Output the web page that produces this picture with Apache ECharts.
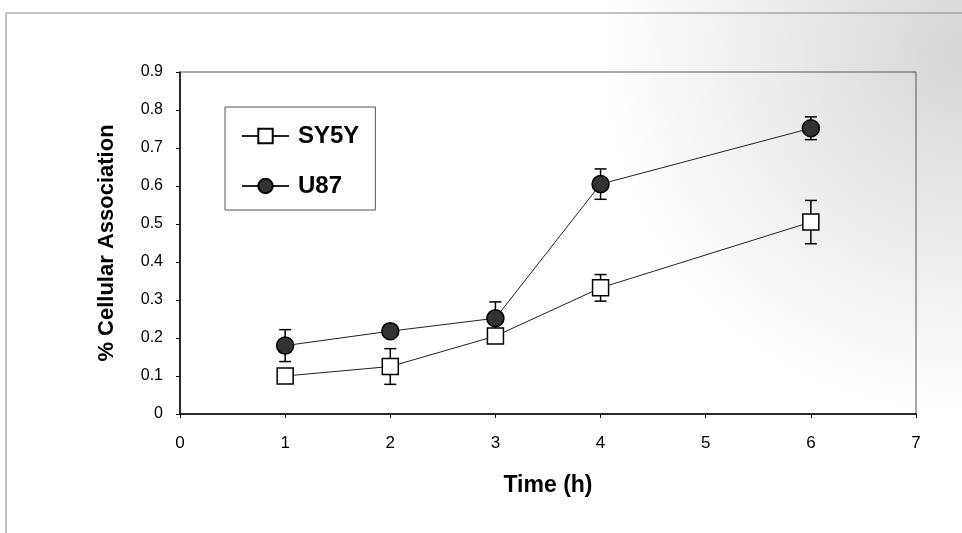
<!DOCTYPE html>
<html><head><meta charset="utf-8">
<script src="https://cdn.jsdelivr.net/npm/echarts@6/dist/echarts.min.js"></script>
<style>html,body{margin:0;padding:0;background:#fff}#c{width:962px;height:533px}</style>
</head><body><div id="c"></div>
<script>
var timeH = [1, 2, 3, 4, 6];
var sy5yMean = [0.10, 0.125, 0.205, 0.332, 0.505];
var sy5yErr  = [0.01, 0.047, 0.012, 0.035, 0.057];
var u87Mean  = [0.18, 0.218, 0.252, 0.605, 0.752];
var u87Err   = [0.042, 0.008, 0.043, 0.04, 0.03];
var xTicks = [0,1,2,3,4,5,6,7];
var yTicks = [0,0.1,0.2,0.3,0.4,0.5,0.6,0.7,0.8,0.9];

function pts(m){ return timeH.map(function(t,i){ return [t, m[i]]; }); }
function errs(m,e){ return timeH.map(function(t,i){ return [t, m[i]-e[i], m[i]+e[i]]; }); }

function errRender(params, api){
  var x = api.value(0), lo = api.value(1), hi = api.value(2);
  var pLo = api.coord([x, lo]), pHi = api.coord([x, hi]);
  var w = 6;
  var st = {stroke:'#000', lineWidth:1.5};
  return {type:'group', children:[
    {type:'line', shape:{x1:pLo[0], y1:pLo[1], x2:pHi[0], y2:pHi[1]}, style:st},
    {type:'line', shape:{x1:pLo[0]-w, y1:pLo[1], x2:pLo[0]+w, y2:pLo[1]}, style:st},
    {type:'line', shape:{x1:pHi[0]-w, y1:pHi[1], x2:pHi[0]+w, y2:pHi[1]}, style:st}
  ]};
}

var FONT = 'Liberation Sans, Arial, sans-serif';
var chart = echarts.init(document.getElementById('c'));
chart.setOption({
  backgroundColor:'#fff',
  animation:false,
  textStyle:{fontFamily:FONT, color:'#000'},
  graphic:[
    {type:'rect', z:-10, silent:true, shape:{x:560, y:0, width:402, height:533},
      style:{fill:{type:'radial', x:1, y:0.1, r:0.9, colorStops:[
        {offset:0, color:'rgba(0,0,0,0.16)'},
        {offset:0.5, color:'rgba(0,0,0,0.08)'},
        {offset:1, color:'rgba(0,0,0,0)'}]}}},
    {type:'polyline', shape:{points:[[6,533],[6,13],[962,13]]}, style:{stroke:'#888', lineWidth:1, fill:null}}
  ],
  grid:{left:180, top:72, right:46, bottom:119, show:true, borderColor:'#555', borderWidth:1, backgroundColor:'transparent'},
  legend:{
    orient:'vertical', left:225, top:107,
    borderColor:'#555', borderWidth:1, padding:[17,16,12,16], itemGap:26,
    itemWidth:47, itemHeight:18,
    textStyle:{fontSize:24, fontWeight:'bold', color:'#000', fontFamily:FONT, padding:[0,0,0,4]},
    data:['SY5Y','U87']
  },
  xAxis:{
    type:'value', min:0, max:7, interval:1,
    name:'Time (h)', nameLocation:'middle', nameGap:60,
    nameTextStyle:{fontSize:23, fontWeight:'bold', color:'#000', fontFamily:FONT},
    axisLine:{show:true, onZero:false, lineStyle:{color:'#000', width:1.5}},
    axisTick:{show:true, inside:false, length:4, lineStyle:{color:'#000'}},
    axisLabel:{fontSize:17, color:'#000', margin:21, formatter:function(v){return xTicks.indexOf(v)>=0?String(v):'';}},
    splitLine:{show:false}
  },
  yAxis:{
    type:'value', min:0, max:0.9, interval:0.1,
    name:'% Cellular Association', nameLocation:'middle', nameGap:62, nameRotate:90,
    nameTextStyle:{fontSize:22, fontWeight:'bold', color:'#000', fontFamily:FONT},
    axisLine:{show:true, lineStyle:{color:'#000', width:1.5}},
    axisTick:{show:true, inside:false, length:4, lineStyle:{color:'#000'}},
    axisLabel:{fontSize:16, color:'#000', margin:17, formatter:function(v){var r=Math.round(v*10)/10; return yTicks.indexOf(r)>=0?String(r):'';}},
    splitLine:{show:false}
  },
  series:[
    {name:'SY5Y err', type:'custom', renderItem:errRender, data:errs(sy5yMean,sy5yErr), z:1, silent:true, encode:{x:0,y:[1,2]}},
    {name:'U87 err', type:'custom', renderItem:errRender, data:errs(u87Mean,u87Err), z:1, silent:true, encode:{x:0,y:[1,2]}},
    {name:'SY5Y', type:'line', data:pts(sy5yMean), symbol:'rect', symbolSize:16,
      itemStyle:{color:'#fff', borderColor:'#000', borderWidth:1.5},
      lineStyle:{color:'#222', width:1}, z:3},
    {name:'U87', type:'line', data:pts(u87Mean), symbol:'circle', symbolSize:17,
      itemStyle:{color:'#333', borderColor:'#000', borderWidth:1.5},
      lineStyle:{color:'#222', width:1}, z:4}
  ]
});
</script></body></html>
